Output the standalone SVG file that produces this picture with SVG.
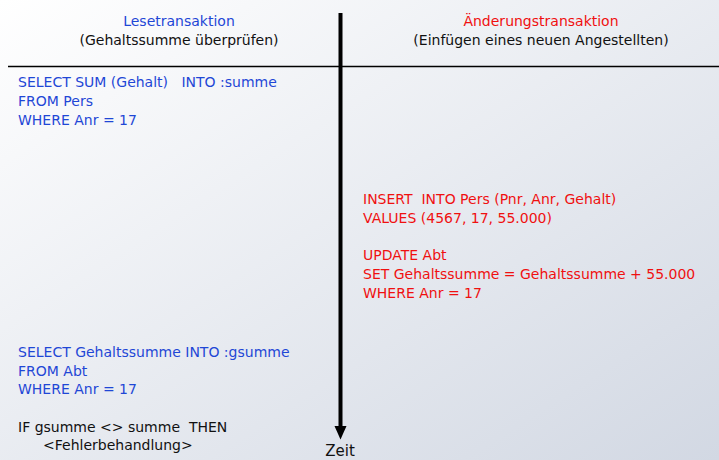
<svg xmlns="http://www.w3.org/2000/svg" width="719" height="460" viewBox="0 0 719 460">
<defs>
<linearGradient id="bg" x1="0" y1="0" x2="1" y2="1">
<stop offset="0" stop-color="#ffffff"/>
<stop offset="1" stop-color="#d2d8e3"/>
</linearGradient>
<style>
text{font-family:"DejaVu Sans","Liberation Sans",sans-serif;font-size:14px}
.b{fill:#1f47d6}
.r{fill:#f01010}
.k{fill:#111}
.c{text-anchor:middle}
</style>
</defs>
<rect width="719" height="460" fill="url(#bg)"/>
<g id="connectors">
<line x1="8" y1="66.5" x2="719" y2="66.5" stroke="#000" stroke-width="1.5"/>
<line x1="340.5" y1="13" x2="340.5" y2="427" stroke="#000" stroke-width="4"/>
<path d="M334.5,426 L346.5,426 L340.5,439.5 Z" fill="#000"/>
</g>
<g id="header-left">
<text class="b c" x="179" y="26">Lesetransaktion</text>
<text class="k c" x="179" y="45">(Gehaltssumme überprüfen)</text>
</g>
<g id="header-right">
<text class="r c" x="541" y="26">Änderungstransaktion</text>
<text class="k c" x="541" y="45">(Einfügen eines neuen Angestellten)</text>
</g>
<g id="read1">
<text class="b" x="18" y="87" xml:space="preserve">SELECT SUM (Gehalt)   INTO :summe</text>
<text class="b" x="18" y="106">FROM Pers</text>
<text class="b" x="18" y="125">WHERE Anr = 17</text>
</g>
<g id="update">
<text class="r" x="363" y="204" xml:space="preserve">INSERT  INTO Pers (Pnr, Anr, Gehalt)</text>
<text class="r" x="363" y="223">VALUES (4567, 17, 55.000)</text>
<text class="r" x="363" y="260">UPDATE Abt</text>
<text class="r" x="363" y="279">SET Gehaltssumme = Gehaltssumme + 55.000</text>
<text class="r" x="363" y="298">WHERE Anr = 17</text>
</g>
<g id="read2">
<text class="b" x="18" y="357">SELECT Gehaltssumme INTO :gsumme</text>
<text class="b" x="18" y="376">FROM Abt</text>
<text class="b" x="18" y="394">WHERE Anr = 17</text>
<text class="k" x="18" y="432" xml:space="preserve">IF gsumme &lt;&gt; summe  THEN</text>
<text class="k" x="43" y="450">&lt;Fehlerbehandlung&gt;</text>
</g>
<g id="zeit">
<text class="k c" x="340" y="456" style="font-size:15px">Zeit</text>
</g>
</svg>
